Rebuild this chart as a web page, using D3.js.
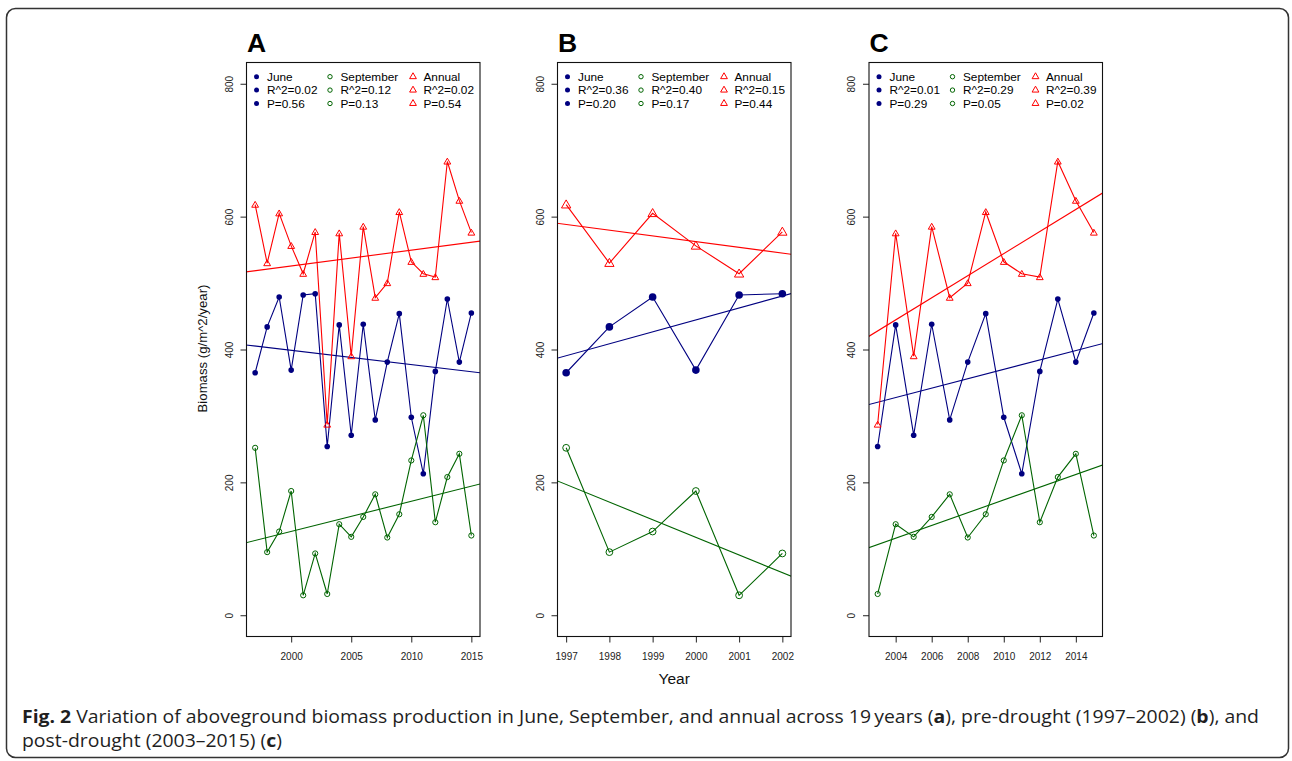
<!DOCTYPE html>
<html>
<head>
<meta charset="utf-8">
<script src="https://cdn.jsdelivr.net/npm/d3@7"></script>
<style>
  html, body { margin: 0; padding: 0; background: #fff; }
  svg { display: block; }
  .chart text { font-family: "Liberation Sans", Arial, Helvetica, sans-serif; }
  text.caption { font-family: "Open Sans", "Noto Sans", sans-serif; }
</style>
</head>
<body>
<svg id="fig" width="1292" height="761"></svg>
<script>
// Aboveground biomass (g/m^2/year) by year
const years     = [1997, 1998, 1999, 2000, 2001, 2002, 2003, 2004, 2005, 2006, 2007, 2008, 2009, 2010, 2011, 2012, 2013, 2014, 2015];
const june      = [365, 434, 479, 369, 482, 484, 254, 437, 271, 438, 294, 381, 454, 298, 213, 367, 476, 381, 455];
const september = [252, 95, 126, 187, 30, 93, 32, 137, 118, 148, 182, 117, 152, 233, 301, 140, 208, 243, 120];
const annual    = [618, 530, 605, 556, 514, 577, 287, 575, 390, 585, 478, 500, 607, 532, 514, 509, 683, 624, 576];

// Panels: letter, first and last year, x tick labels
const panelLetters = ["A", "B", "C"];
const panelFrom    = [1997, 1997, 2003];
const panelTo      = [2015, 2002, 2015];
const panelTicks   = [[2000, 2005, 2010, 2015], [1997, 1998, 1999, 2000, 2001, 2002], [2004, 2006, 2008, 2010, 2012, 2014]];
const yTicks       = [0, 200, 400, 600, 800];

// Regression statistics shown in each legend
const juneR2 = ["0.02", "0.36", "0.01"];
const juneP  = ["0.56", "0.20", "0.29"];
const septR2 = ["0.12", "0.40", "0.29"];
const septP  = ["0.13", "0.17", "0.05"];
const annR2  = ["0.02", "0.15", "0.39"];
const annP   = ["0.54", "0.44", "0.02"];

const colJune = "#000080", colSept = "#006400", colAnn = "#ff0000";

const svg = d3.select("#fig");

// outer frame
svg.append("rect")
  .attr("x", 6.5).attr("y", 8.5).attr("width", 1282).attr("height", 749)
  .attr("rx", 9).attr("ry", 9)
  .attr("fill", "none").attr("stroke", "#333").attr("stroke-width", 1.5);

const chart = svg.append("g").attr("class", "chart");

const boxLeft = [246.5, 557.5, 869];
const boxW = 233.5, boxTop = 62.5, boxBottom = 636.5;

const y = d3.scaleLinear().domain([-32, 832]).range([boxBottom, boxTop]);

function fit(xs, ys) {
  const mx = d3.mean(xs), my = d3.mean(ys);
  let sxy = 0, sxx = 0;
  xs.forEach((x, i) => { sxy += (x - mx) * (ys[i] - my); sxx += (x - mx) * (x - mx); });
  const b = sxy / sxx;
  return { a: my - b * mx, b };
}

function triPath(s) {
  const h = s * Math.sqrt(3) / 2;
  return `M0,${-h * 2 / 3}L${s / 2},${h / 3}L${-s / 2},${h / 3}Z`;
}

panelLetters.forEach((letter, p) => {
  const idx = years.map((yr, i) => i).filter(i => years[i] >= panelFrom[p] && years[i] <= panelTo[p]);
  const yrs = idx.map(i => years[i]);
  const span = panelTo[p] - panelFrom[p];
  const x = d3.scaleLinear()
    .domain([panelFrom[p] - 0.04 * span, panelTo[p] + 0.04 * span])
    .range([boxLeft[p], boxLeft[p] + boxW]);
  const big = p === 1;

  const g = chart.append("g");

  // panel letter
  g.append("text")
    .attr("x", boxLeft[p] + 0.5).attr("y", 52.3)
    .attr("font-size", 26.5).attr("font-weight", "bold").attr("fill", "#000")
    .text(letter);

  // clip region for regression lines
  const clipId = "clip" + p;
  svg.append("clipPath").attr("id", clipId)
    .append("rect").attr("x", boxLeft[p]).attr("y", boxTop).attr("width", boxW).attr("height", boxBottom - boxTop);

  // y axis
  const yAxis = d3.axisLeft(y).tickValues(yTicks).tickSize(6).tickFormat(d3.format("d"));
  const ga = g.append("g").attr("transform", `translate(${boxLeft[p]},0)`).call(yAxis);
  ga.select(".domain").remove();
  ga.selectAll("line").attr("stroke", "#222");
  ga.selectAll("text")
    .attr("font-size", 10).attr("fill", "#222")
    .attr("x", null).attr("dy", null)
    .attr("text-anchor", "middle")
    .attr("transform", "translate(-14,0) rotate(-90)");

  // x axis
  const xAxis = d3.axisBottom(x).tickValues(panelTicks[p]).tickSize(6).tickFormat(d3.format("d"));
  const gx = g.append("g").attr("transform", `translate(0,${boxBottom})`).call(xAxis);
  gx.select(".domain").remove();
  gx.selectAll("line").attr("stroke", "#222");
  gx.selectAll("text")
    .attr("font-size", 10).attr("fill", "#222")
    .attr("dy", null).attr("y", 23.5);

  const series = [
    { vals: june, color: colJune, kind: "dot" },
    { vals: september, color: colSept, kind: "ring" },
    { vals: annual, color: colAnn, kind: "tri" }
  ];

  // regression lines across the plot region
  const lines = g.append("g").attr("clip-path", `url(#${clipId})`);
  series.forEach(s => {
    const f = fit(yrs, idx.map(i => s.vals[i]));
    const x0 = x.domain()[0] - 1, x1 = x.domain()[1] + 1;
    lines.append("line")
      .attr("x1", x(x0)).attr("y1", y(f.a + f.b * x0))
      .attr("x2", x(x1)).attr("y2", y(f.a + f.b * x1))
      .attr("stroke", s.color).attr("stroke-width", 1.1);
  });

  // series lines and points
  series.forEach(s => {
    const pts = idx.map(i => [years[i], s.vals[i]]);
    g.append("path")
      .attr("d", d3.line().x(d => x(d[0])).y(d => y(d[1]))(pts))
      .attr("fill", "none").attr("stroke", s.color).attr("stroke-width", 1.1);
    pts.forEach(d => {
      if (s.kind === "dot") {
        g.append("circle").attr("cx", x(d[0])).attr("cy", y(d[1]))
          .attr("r", big ? 3.8 : 2.8).attr("fill", s.color);
      } else if (s.kind === "ring") {
        g.append("circle").attr("cx", x(d[0])).attr("cy", y(d[1]))
          .attr("r", big ? 3.4 : 2.6).attr("fill", "none").attr("stroke", s.color).attr("stroke-width", 1);
      } else {
        g.append("path").attr("transform", `translate(${x(d[0])},${y(d[1]) + 0.6})`)
          .attr("d", triPath(big ? 9.3 : 6.8)).attr("fill", "none").attr("stroke", s.color).attr("stroke-width", 1);
      }
    });
  });

  // plot box
  g.append("rect")
    .attr("x", boxLeft[p]).attr("y", boxTop).attr("width", boxW).attr("height", boxBottom - boxTop)
    .attr("fill", "none").attr("stroke", "#111").attr("stroke-width", 1.1);

  // legend, three columns
  const legCols = [
    { color: colJune, kind: "dot", labels: ["June", "R^2=" + juneR2[p], "P=" + juneP[p]] },
    { color: colSept, kind: "ring", labels: ["September", "R^2=" + septR2[p], "P=" + septP[p]] },
    { color: colAnn, kind: "tri", labels: ["Annual", "R^2=" + annR2[p], "P=" + annP[p]] }
  ];
  const colOff = [10, 83.5, 166.5];
  legCols.forEach((c, ci) => {
    c.labels.forEach((lab, ri) => {
      const cx = boxLeft[p] + colOff[ci], cy = 76.7 + ri * 13.4;
      if (c.kind === "dot") {
        g.append("circle").attr("cx", cx).attr("cy", cy).attr("r", 2.5).attr("fill", c.color);
      } else if (c.kind === "ring") {
        g.append("circle").attr("cx", cx).attr("cy", cy).attr("r", 2.2)
          .attr("fill", "none").attr("stroke", c.color).attr("stroke-width", 1);
      } else {
        g.append("path").attr("transform", `translate(${cx},${cy})`)
          .attr("d", triPath(6.8)).attr("fill", "none").attr("stroke", c.color).attr("stroke-width", 1);
      }
      g.append("text").attr("x", cx + 10.5).attr("y", cy + 4.3)
        .attr("font-size", 11.8).attr("fill", "#000").text(lab);
    });
  });
});

// axis titles
chart.append("text")
  .attr("transform", `translate(206.5,${(boxTop + boxBottom) / 2 - 1}) rotate(-90)`)
  .attr("text-anchor", "middle").attr("font-size", 13.2).attr("fill", "#111")
  .text("Biomass (g/m^2/year)");

chart.append("text")
  .attr("x", boxLeft[1] + boxW / 2).attr("y", 684)
  .attr("text-anchor", "middle").attr("font-size", 15.5).attr("fill", "#111")
  .text("Year");

// figure caption
const cap1 = svg.append("text").attr("class", "caption")
  .attr("x", 22).attr("y", 723.3)
  .attr("font-size", 17.5).attr("fill", "#1f1f1f")
  .attr("textLength", 1237).attr("lengthAdjust", "spacingAndGlyphs");
cap1.append("tspan").attr("font-weight", "bold").text("Fig. 2");
cap1.append("tspan").text(" Variation of aboveground biomass production in June, September, and annual across 19\u2009years (");
cap1.append("tspan").attr("font-weight", "bold").text("a");
cap1.append("tspan").text("), pre-drought (1997\u20132002) (");
cap1.append("tspan").attr("font-weight", "bold").text("b");
cap1.append("tspan").text("), and");

const cap2 = svg.append("text").attr("class", "caption")
  .attr("x", 22).attr("y", 746.7)
  .attr("font-size", 17.5).attr("fill", "#1f1f1f")
  .attr("textLength", 260).attr("lengthAdjust", "spacingAndGlyphs");
cap2.append("tspan").text("post-drought (2003\u20132015) (");
cap2.append("tspan").attr("font-weight", "bold").text("c");
cap2.append("tspan").text(")");
</script>
</body>
</html>
